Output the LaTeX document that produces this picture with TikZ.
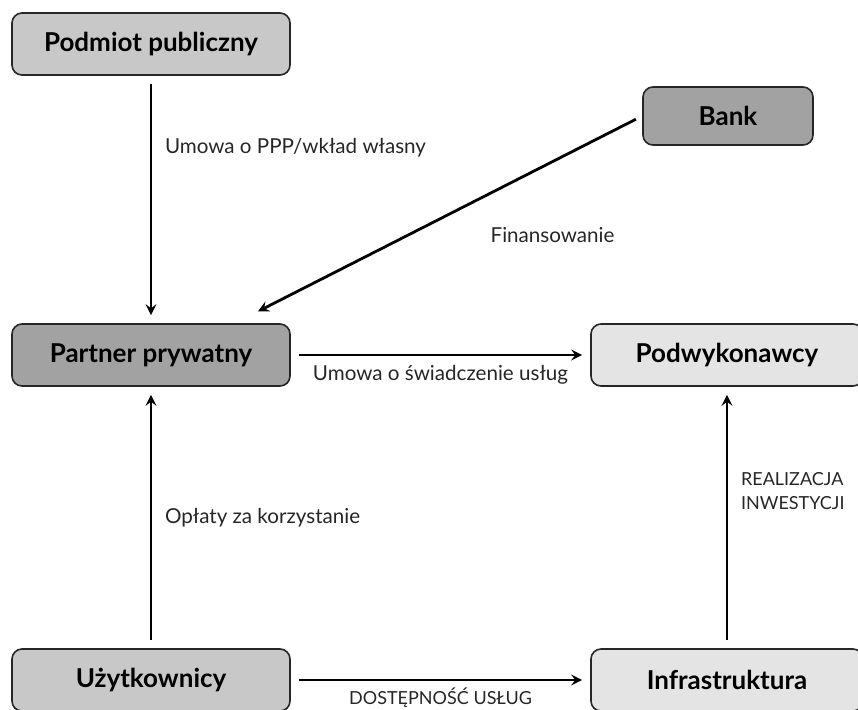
\documentclass[tikz,border=0pt]{standalone}
\usepackage{fontspec}
\setmainfont{Lato}
\usetikzlibrary{positioning, arrows}

\definecolor{ciemny}{HTML}{A2A2A2}
\definecolor{sredni}{HTML}{C8C8C8}
\definecolor{jasny}{HTML}{E4E4E4}

\begin{document}
\begin{tikzpicture}[x=0.5pt, y=-0.5pt,
  box/.style={draw=black!85, line width=0.8pt, rounded corners=5pt, minimum width=139pt, minimum height=31pt, font=\bfseries\fontsize{13}{15}\selectfont},
  strzalka/.style={-stealth, line width=1.4pt, shorten <=4pt, shorten >=4pt},
  opis/.style={font=\fontsize{10.3}{12.5}\selectfont, text=black!85},
  wersaliki/.style={font=\fontsize{9}{12}\selectfont, text=black!85}]
\useasboundingbox (0,0) rectangle (858,709);

\node[box, fill=sredni] (podmiot) at (151,44) {Podmiot publiczny};
\node[box, fill=ciemny, minimum width=85pt, minimum height=29pt] (bank) at (728,116) {Bank};
\node[box, fill=ciemny] (partner) at (151,355) {Partner prywatny};
\node[box, fill=jasny, minimum width=136pt] (podwyk) at (727,355) {Podwykonawcy};
\node[box, fill=sredni] (uzytk) at (151,680) {Użytkownicy};
\node[box, fill=jasny, minimum width=136pt] (infra) at (727,680) {Infrastruktura};

\draw[strzalka] (podmiot) -- (partner)
  node[opis, pos=0.29, right=3pt] {Umowa o PPP/wkład własny};
\draw[strzalka, shorten <=3.5pt, shorten >=13pt] (bank.west) -- ([xshift=-28pt]partner.north east)
  node[opis, pos=0.22, below=29pt] {Finansowanie};
\draw[strzalka] (partner) -- (podwyk)
  node[opis, midway, below=1pt] {Umowa o świadczenie usług};
\draw[strzalka] (uzytk) -- (partner)
  node[opis, midway, right=3pt] {Opłaty za korzystanie};
\draw[strzalka] (uzytk) -- (infra)
  node[wersaliki, midway, below=0pt] {DOSTĘPNOŚĆ USŁUG};
\draw[strzalka] (infra) -- (podwyk)
  node[wersaliki, pos=0.6, right=3pt, align=left] {REALIZACJA\\INWESTYCJI};

\end{tikzpicture}
\end{document}
